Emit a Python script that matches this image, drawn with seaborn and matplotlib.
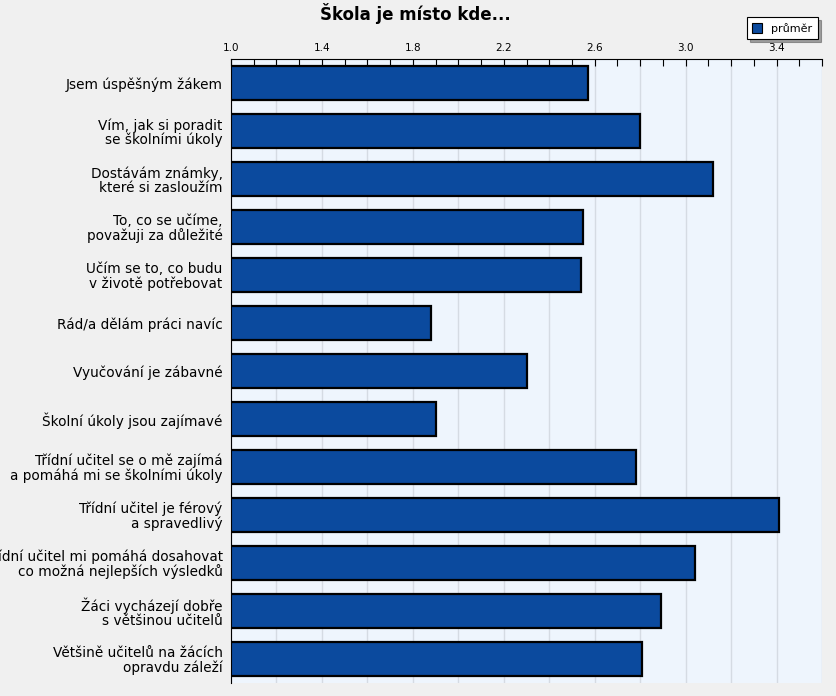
import seaborn as sns
import pandas as pd
from matplotlib import pyplot as plt
from matplotlib.patches import Patch
import matplotlib.ticker as mtick

# Survey statements (y categories) and the mean answer for each
statements = [
    "Jsem úspěšným žákem",
    "Vím, jak si poradit\nse školními úkoly",
    "Dostávám známky,\nkteré si zasloužím",
    "To, co se učíme,\npovažuji za důležité",
    "Učím se to, co budu\nv životě potřebovat",
    "Rád/a dělám práci navíc",
    "Vyučování je zábavné",
    "Školní úkoly jsou zajímavé",
    "Třídní učitel se o mě zajímá\na pomáhá mi se školními úkoly",
    "Třídní učitel je férový\na spravedlivý",
    "Třídní učitel mi pomáhá dosahovat\nco možná nejlepších výsledků",
    "Žáci vycházejí dobře\ns většinou učitelů",
    "Většině učitelů na žácích\nopravdu záleží",
]
prumer = [2.57, 2.80, 3.12, 2.55, 2.54, 1.88, 2.30, 1.90, 2.78, 3.41, 3.04, 2.89, 2.81]

df = pd.DataFrame({"statement": statements, "průměr": prumer})
bar_color = "#0b4a9e"

sns.set_style("white")
plt.rcParams["font.family"] = ["DejaVu Sans"]
plt.rcParams["text.color"] = "black"
plt.rcParams["xtick.color"] = "black"
plt.rcParams["ytick.color"] = "black"

fig = plt.figure(figsize=(8.36, 6.96), dpi=100, facecolor="#f0f0f0")
ax = fig.add_axes([0.2763, 0.0187, 0.7070, 0.8965])
ax.set_facecolor("#eef5fd")

sns.barplot(data=df, x="průměr", y="statement", orient="h",
            color=bar_color, saturation=1, edgecolor="black",
            linewidth=1.6, width=0.71, ax=ax)

ax.set_xlim(1.0, 3.6)
ax.set_ylim(len(statements) - 0.5, -0.5)

# x axis on top, ticks every 0.1, grid every 0.2, labels every 0.4
ax.xaxis.tick_top()
ax.xaxis.set_major_locator(mtick.MultipleLocator(0.2))
ax.xaxis.set_minor_locator(mtick.MultipleLocator(0.1))

def every_other(x, pos):
    r = round((x - 1.0) / 0.4, 6)
    return f"{x:.1f}" if abs(r - round(r)) < 1e-6 else ""

ax.xaxis.set_major_formatter(mtick.FuncFormatter(every_other))
ax.tick_params(axis="x", which="both", direction="in", length=5, width=0.8,
               colors="black", labelsize=7.5, pad=4)
ax.grid(axis="x", which="major", color="#d5dbe3", linewidth=1)
ax.set_axisbelow(True)

# category boundary ticks on the left
ax.yaxis.set_minor_locator(mtick.FixedLocator([i + 0.5 for i in range(len(statements))]))
ax.tick_params(axis="y", which="major", length=0, labelsize=9.8, pad=6,
               labelcolor="black")
ax.tick_params(axis="y", which="minor", direction="in", length=6, width=0.8)
for t in ax.get_yticklabels():
    t.set_linespacing(1.0)

ax.set_xlabel("")
ax.set_ylabel("")
for side in ["right", "bottom"]:
    ax.spines[side].set_visible(False)
for side in ["left", "top"]:
    ax.spines[side].set_color("black")
    ax.spines[side].set_linewidth(0.8)

fig.suptitle("Škola je místo kde...", x=0.497, y=0.995, fontsize=12,
             fontweight="bold", color="black")

handle = Patch(facecolor=bar_color, edgecolor="black", linewidth=0.8)
leg = fig.legend([handle], ["průměr"], loc="upper right",
                 bbox_to_anchor=(0.985, 0.983),
                 fontsize=8, frameon=True, fancybox=False, shadow=True,
                 edgecolor="black", handlelength=0.9, handleheight=0.9,
                 borderpad=0.5, handletextpad=0.8)
leg.get_frame().set_linewidth(0.8)

fig.savefig("out.png", dpi=100, facecolor=fig.get_facecolor())
